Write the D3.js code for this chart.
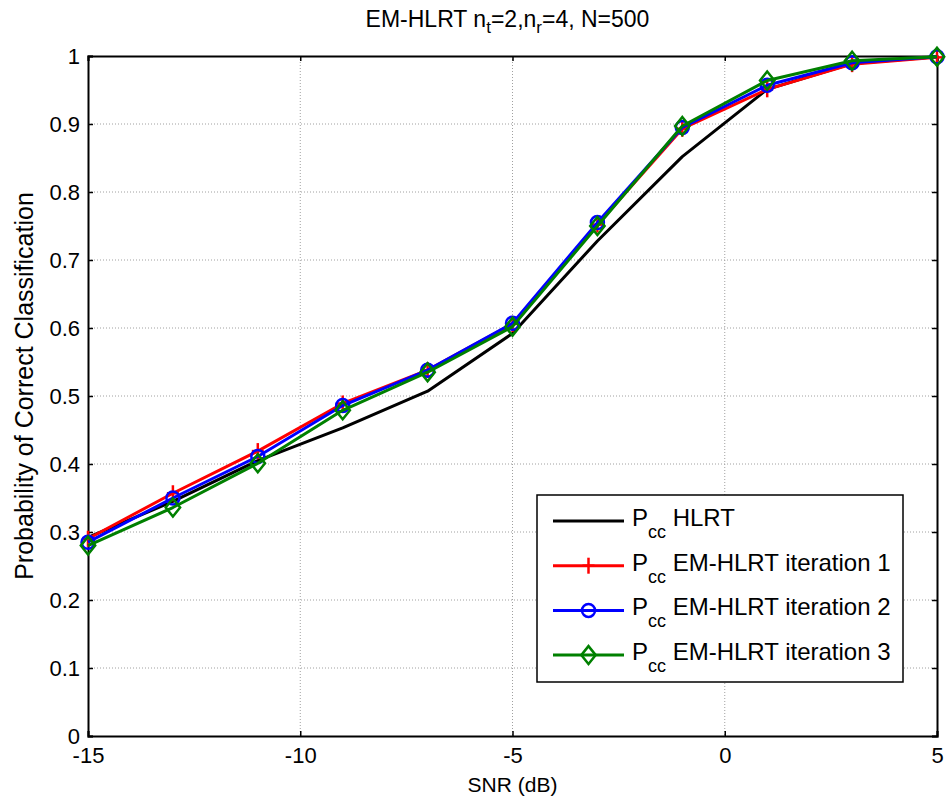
<!DOCTYPE html>
<html><head><meta charset="utf-8">
<script src="https://cdn.jsdelivr.net/npm/d3@7"></script>
<style>body{margin:0;background:#fff;} text{font-family:"Liberation Sans",Arial,sans-serif;}</style>
</head><body>
<svg id="c" width="948" height="805"></svg>
<script>
const snr = [-15,-13,-11,-9,-7,-5,-3,-1,1,3,5];
const hlrt = [0.292,0.345,0.405,0.453,0.507,0.592,0.728,0.852,0.951,0.989,0.999];
const em1  = [0.290,0.357,0.419,0.489,0.538,0.606,0.752,0.893,0.951,0.988,0.998];
const em2  = [0.285,0.350,0.411,0.486,0.538,0.607,0.755,0.895,0.957,0.990,0.999];
const em3  = [0.280,0.336,0.401,0.479,0.535,0.602,0.750,0.897,0.964,0.993,0.999];
const xTicks = [-15,-10,-5,0,5];
const yTicks = [0,0.1,0.2,0.3,0.4,0.5,0.6,0.7,0.8,0.9,1];
const seriesNames = ["HLRT","EM-HLRT iteration 1","EM-HLRT iteration 2","EM-HLRT iteration 3"];
const seriesColors = ["#000000","#ff0000","#0000ff","#008000"];
const seriesMarkers = ["none","plus","circle","diamond"];
const seriesData = [hlrt, em1, em2, em3];

const svg = d3.select("#c");
const L=88, R=937, T=56, B=736;
const x = d3.scaleLinear().domain([-15,5]).range([L,R]);
const y = d3.scaleLinear().domain([0,1]).range([B,T]);

// grid
const g = svg.append("g");
g.selectAll(".gx").data(xTicks.slice(1,-1)).enter().append("line")
  .attr("x1",d=>x(d)).attr("x2",d=>x(d)).attr("y1",T).attr("y2",B)
  .attr("stroke","#a0a0a0").attr("stroke-width",1).attr("stroke-dasharray","1,2");
g.selectAll(".gy").data(yTicks.slice(1,-1)).enter().append("line")
  .attr("y1",d=>y(d)).attr("y2",d=>y(d)).attr("x1",L).attr("x2",R)
  .attr("stroke","#a0a0a0").attr("stroke-width",1).attr("stroke-dasharray","1,2");

// axes
const xb = svg.append("g").attr("transform",`translate(0,${B})`)
  .call(d3.axisBottom(x).tickValues(xTicks).tickSize(-5).tickPadding(10).tickFormat(d=>d));
const xt = svg.append("g").attr("transform",`translate(0,${T})`)
  .call(d3.axisTop(x).tickValues(xTicks).tickSize(-5).tickFormat(""));
const yl = svg.append("g").attr("transform",`translate(${L},0)`)
  .call(d3.axisLeft(y).tickValues(yTicks).tickSize(-5).tickPadding(8).tickFormat(d=>d===0?"0":d===1?"1":d3.format(".1f")(d)));
const yr = svg.append("g").attr("transform",`translate(${R},0)`)
  .call(d3.axisRight(y).tickValues(yTicks).tickSize(-5).tickFormat(""));
[xb,xt,yl,yr].forEach(a=>{
  a.attr("font-size",22).attr("font-family","Liberation Sans, Arial, sans-serif");
  a.select(".domain").attr("stroke","#000").attr("stroke-width",2);
  a.selectAll(".tick line").attr("stroke","#000").attr("stroke-width",1.5);
  a.selectAll("text").attr("font-size",22).attr("fill","#000");
});
xb.selectAll("text").attr("dy","0.71em").attr("y",11);

// title & labels
const title = svg.append("text").attr("x",(L+R)/2 - 5).attr("y",27).attr("text-anchor","middle").attr("font-size",23);
title.append("tspan").text("EM-HLRT n");
title.append("tspan").attr("font-size",17).attr("dy",6).text("t");
title.append("tspan").attr("dy",-6).text("=2,n");
title.append("tspan").attr("font-size",17).attr("dy",6).text("r");
title.append("tspan").attr("dy",-6).text("=4, N=500");
svg.append("text").attr("x",(L+R)/2).attr("y",792).attr("text-anchor","middle").attr("font-size",21).text("SNR (dB)");
svg.append("text").attr("transform",`translate(33,386) rotate(-90)`).attr("text-anchor","middle").attr("font-size",25).text("Probability of Correct Classification");

// markers
function drawMarker(sel, type, color, cx, cy){
  if(type==="plus"){
    sel.append("line").attr("x1",cx-6).attr("x2",cx+6).attr("y1",cy).attr("y2",cy).attr("stroke",color).attr("stroke-width",2.5);
    sel.append("line").attr("x1",cx).attr("x2",cx).attr("y1",cy-8).attr("y2",cy+8).attr("stroke",color).attr("stroke-width",2.5);
  } else if(type==="circle"){
    sel.append("circle").attr("cx",cx).attr("cy",cy).attr("r",6.5).attr("fill","none").attr("stroke",color).attr("stroke-width",2.5);
  } else if(type==="diamond"){
    const s=9;
    sel.append("path").attr("d",`M${cx},${cy-s}L${cx+s*0.8},${cy}L${cx},${cy+s}L${cx-s*0.8},${cy}Z`).attr("fill","none").attr("stroke",color).attr("stroke-width",2.5);
  }
}

const line = d3.line().x((d,i)=>x(snr[i])).y(d=>y(d));
seriesData.forEach((data,k)=>{
  const gg = svg.append("g");
  gg.append("path").attr("d",line(data)).attr("fill","none").attr("stroke",seriesColors[k]).attr("stroke-width",3).attr("stroke-linejoin","round");
  data.forEach((v,i)=>drawMarker(gg,seriesMarkers[k],seriesColors[k],x(snr[i]),y(v)));
});

// legend
const lg = svg.append("g");
lg.append("rect").attr("x",537).attr("y",495).attr("width",366).attr("height",187).attr("fill","#fff").attr("stroke","#000").attr("stroke-width",1.5);
seriesNames.forEach((n,k)=>{
  const ly = 521 + k*44.7;
  lg.append("line").attr("x1",553).attr("x2",624).attr("y1",ly).attr("y2",ly).attr("stroke",seriesColors[k]).attr("stroke-width",3);
  drawMarker(lg,seriesMarkers[k],seriesColors[k],588.5,ly);
  const t = lg.append("text").attr("x",632).attr("y",ly+5).attr("font-size",24);
  t.append("tspan").text("P");
  t.append("tspan").attr("font-size",18).attr("dy",12).text("cc");
  t.append("tspan").attr("dy",-12).text(" "+n);
});
</script>
</body></html>
